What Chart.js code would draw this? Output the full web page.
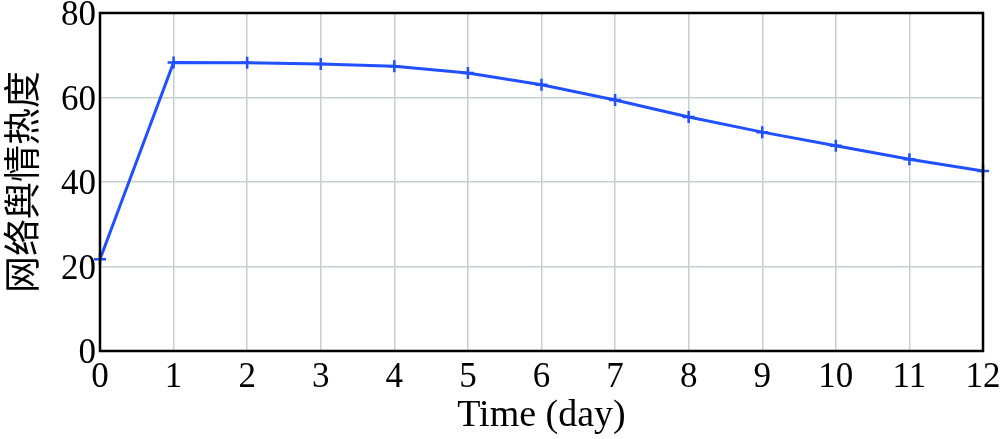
<!DOCTYPE html>
<html>
<head>
<meta charset="utf-8">
<script src="https://cdn.jsdelivr.net/npm/chart.js@4/dist/chart.umd.min.js"></script>
<style>
  html, body { margin: 0; padding: 0; background: #fff; }
  #wrap { width: 1000px; height: 439px; }
</style>
</head>
<body>
<div id="wrap"><canvas id="grafico"></canvas></div>
<script>
// Datos
const dias = [0, 1, 2, 3, 4, 5, 6, 7, 8, 9, 10, 11, 12];
const calor = [21.7, 68.3, 68.2, 67.9, 67.4, 65.8, 63.0, 59.4, 55.4, 51.8, 48.6, 45.4, 42.6];
const tituloX = "Time (day)";
const tituloY = "网络舆情热度";

// Marco negro alrededor del área del gráfico
const marco = {
  id: "marco",
  afterDraw(chart) {
    const { ctx, chartArea: a } = chart;
    ctx.save();
    ctx.strokeStyle = "#000";
    ctx.lineWidth = 2.5;
    ctx.strokeRect(a.left, a.top, a.right - a.left, a.bottom - a.top);
    ctx.restore();
  },
};

const serif = "'Liberation Serif', 'Times New Roman', serif";

new Chart(document.getElementById("grafico"), {
  type: "line",
  data: {
    datasets: [
      {
        data: dias.map((d, i) => ({ x: d, y: calor[i] })),
        borderColor: "#2050ff",
        borderWidth: 3,
        pointStyle: "cross",
        pointRadius: 6,
        pointBorderWidth: 2.5,
        pointBorderColor: "#2050ff",
        tension: 0,
        clip: false,
      },
    ],
  },
  options: {
    responsive: true,
    maintainAspectRatio: false,
    animation: false,
    layout: { padding: { top: 13, right: 17, left: 0, bottom: 0 } },
    plugins: { legend: { display: false }, tooltip: { enabled: false } },
    scales: {
      x: {
        type: "linear",
        min: 0,
        max: 12,
        ticks: { stepSize: 1, color: "#000", font: { family: serif, size: 35 }, padding: 6 },
        grid: { color: "#c5d0d3", lineWidth: 1.5, drawTicks: false },
        border: { display: false },
        title: { display: true, text: tituloX, color: "#000", font: { family: serif, size: 38 }, padding: { top: 0, bottom: 0 } },
        afterFit: (s) => { s.height = 88; s.paddingLeft = 0; s.paddingRight = 0; },
      },
      y: {
        min: 0,
        max: 80,
        ticks: { stepSize: 20, color: "#000", font: { family: serif, size: 35 }, padding: 4, labelOffset: 3 },
        grid: { color: "#c5d0d3", lineWidth: 1.5, drawTicks: false },
        border: { display: false },
        title: { display: true, text: tituloY, color: "#000", font: { family: "'Noto Sans CJK SC', sans-serif", size: 37 }, padding: { top: 0, bottom: 4 } },
        afterFit: (s) => { s.width = 100; s.paddingTop = 0; s.paddingBottom = 0; },
      },
    },
  },
  plugins: [marco],
});
</script>
</body>
</html>
